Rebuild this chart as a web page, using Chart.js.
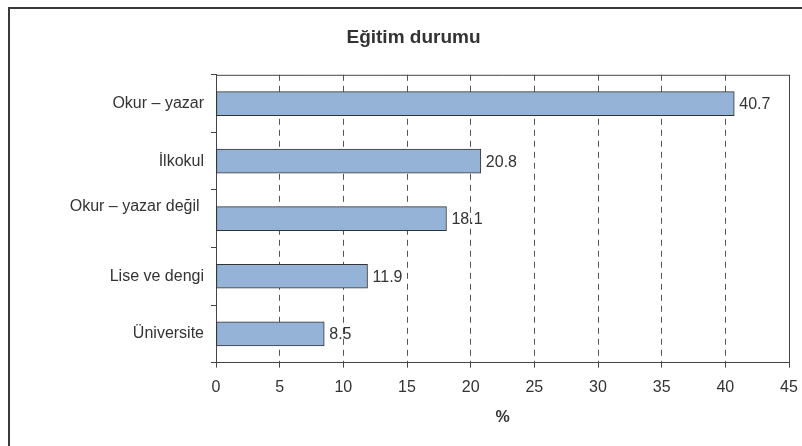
<!DOCTYPE html>
<html>
<head>
<meta charset="utf-8">
<script src="https://cdn.jsdelivr.net/npm/chart.js@4.4.1/dist/chart.umd.min.js"></script>
<style>
  html, body { margin: 0; padding: 0; background: #fff; }
  #wrap { width: 802px; height: 446px; }
</style>
</head>
<body>
<div id="wrap"><canvas id="chart"></canvas></div>
<script>
// Veriler
const categories = ['Okur – yazar', 'İlkokul', ['Okur – yazar değil ', ''], 'Lise ve dengi', 'Üniversite'];
const values = [40.7, 20.8, 18.1, 11.9, 8.5];
const xMax = 45;
const xStep = 5;

const fontFamily = '"Liberation Sans", Arial, Helvetica, sans-serif';

// Beyaz zemin ve dış çerçeve
const frame = {
  id: 'frame',
  beforeDraw(chart) {
    const {ctx, width, height} = chart;
    ctx.save();
    ctx.fillStyle = '#fff';
    ctx.fillRect(0, 0, width, height);
    ctx.restore();
  },
  afterDraw(chart) {
    const {ctx, chartArea: {top, right, left, bottom}} = chart;
    ctx.save();
    // çizim alanının üst ve sağ kenarı
    ctx.strokeStyle = '#444';
    ctx.lineWidth = 1;
    ctx.beginPath();
    ctx.moveTo(left, top + 0.5);
    ctx.lineTo(right + 0.5, top + 0.5);
    ctx.lineTo(right + 0.5, bottom);
    ctx.stroke();
    // grafiğin dış çerçevesi (sağ ve alt kenar görüntü dışında)
    ctx.strokeStyle = '#3a3a3a';
    ctx.lineWidth = 2;
    ctx.beginPath();
    ctx.moveTo(9, chart.height + 5);
    ctx.lineTo(9, 8);
    ctx.lineTo(chart.width + 5, 8);
    ctx.stroke();
    ctx.restore();
  }
};

// Çubukların ucundaki değerler
const valueLabels = {
  id: 'valueLabels',
  afterDatasetsDraw(chart) {
    const {ctx} = chart;
    const meta = chart.getDatasetMeta(0);
    ctx.save();
    ctx.fillStyle = '#333';
    ctx.font = '16px ' + fontFamily;
    ctx.textAlign = 'left';
    ctx.textBaseline = 'middle';
    meta.data.forEach((bar, i) => {
      ctx.fillText(String(values[i]), bar.x + 5, bar.y + 1);
    });
    ctx.restore();
  }
};

new Chart(document.getElementById('chart'), {
  type: 'bar',
  data: {
    labels: categories,
    datasets: [{
      data: values,
      backgroundColor: '#95B3D7',
      borderColor: '#333',
      borderWidth: 1,
      borderSkipped: false,
      barThickness: 24
    }]
  },
  options: {
    indexAxis: 'y',
    responsive: true,
    maintainAspectRatio: false,
    animation: false,
    devicePixelRatio: 1,
    layout: {
      padding: { left: 38, right: 13, top: 8, bottom: 19 }
    },
    plugins: {
      legend: { display: false },
      tooltip: { enabled: false },
      title: {
        display: true,
        text: 'Eğitim durumu',
        color: '#333',
        font: { family: fontFamily, size: 19, weight: 'bold' },
        padding: { top: 18, bottom: 26 }
      }
    },
    scales: {
      x: {
        min: 0,
        max: xMax,
        afterFit(scale) { scale.paddingLeft = 0; scale.paddingRight = 0; },
        ticks: {
          stepSize: xStep,
          color: '#333',
          padding: 10,
          font: { family: fontFamily, size: 16 }
        },
        grid: {
          color: '#555',
          tickLength: 5,
          tickColor: '#444',
          tickBorderDash: []
        },
        border: { display: true, color: '#444', width: 1, dash: [6, 5] },
        title: {
          display: true,
          text: '%',
          color: '#333',
          font: { family: fontFamily, size: 16, weight: 'bold' },
          padding: { top: 1, bottom: 0 }
        }
      },
      y: {
        afterFit(scale) { scale.width = 178; },
        ticks: {
          color: '#333',
          padding: 7,
          font: { family: fontFamily, size: 16, lineHeight: 1.5 }
        },
        grid: {
          offset: true,
          drawOnChartArea: false,
          tickLength: 5,
          color: '#444'
        },
        border: { display: true, color: '#444', width: 1 }
      }
    }
  },
  plugins: [frame, valueLabels]
});
</script>
</body>
</html>
